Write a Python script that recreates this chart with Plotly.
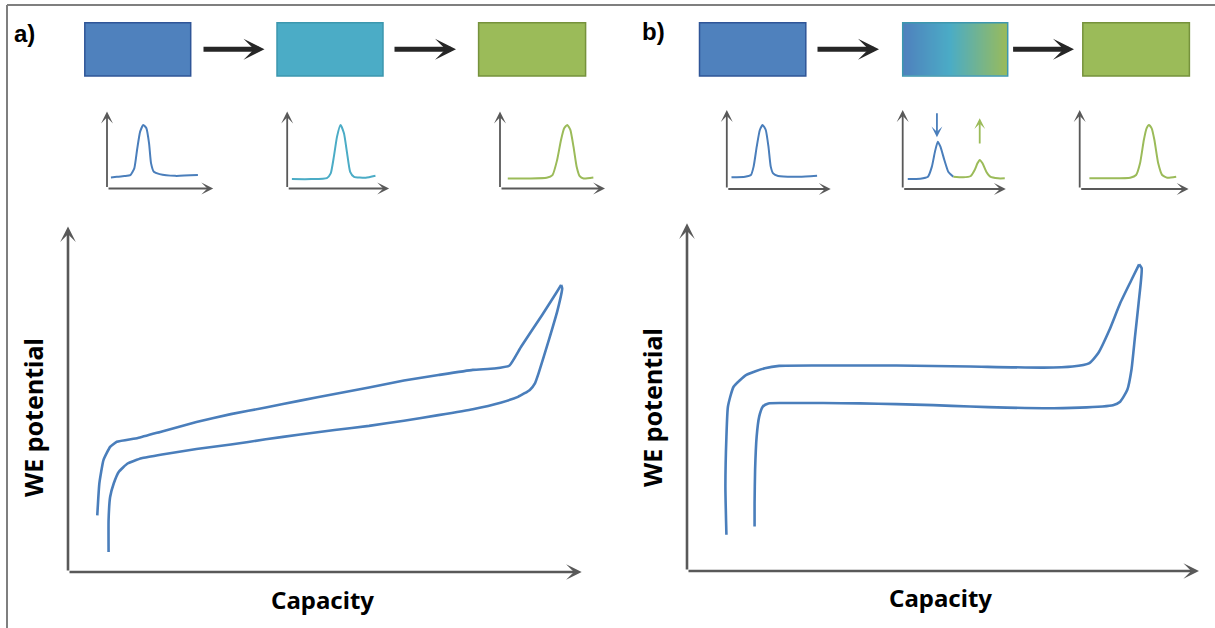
import plotly.graph_objects as go

# ---------------- data ----------------
# Panel a: sloping (solid-solution) voltage profile, capacity & potential in % of axis length
a_charge_cap = [5.7, 6.1, 6.9, 8.2, 9.5, 13.6, 18.3, 25.0, 31.7, 38.5, 45.2, 51.9, 58.6, 65.4,
                72.1, 78.8, 82.9, 85.9, 88.2, 92.3, 95.0, 96.0]
a_charge_pot = [16.4, 25.6, 32.4, 36.2, 37.7, 38.8, 40.7, 43.4, 45.7, 47.6, 49.6, 51.5, 53.4, 55.4,
                57.0, 58.5, 58.9, 59.7, 65.2, 74.4, 80.7, 83.1]
a_discharge_cap = [96.0, 96.2, 95.3, 93.6, 91.6, 90.9, 89.9, 87.6, 84.2, 78.8, 72.1, 65.4, 58.6, 51.9,
                   45.2, 38.5, 31.7, 25.0, 18.3, 14.3, 11.6, 9.9, 8.9, 8.2, 7.9, 7.9]
a_discharge_pot = [83.1, 82.1, 75.8, 67.1, 57.5, 54.6, 52.7, 50.7, 49.0, 47.1, 45.4, 43.8, 42.3, 41.1,
                   39.8, 38.4, 36.9, 35.6, 34.0, 32.9, 31.4, 29.0, 25.6, 21.7, 15.0, 5.8]

# Panel b: two-phase (plateau) voltage profile
b_charge_cap = [7.7, 7.5, 7.7, 8.0, 9.1, 11.6, 15.2, 18.0, 26.6, 40.9, 55.3, 69.6, 75.3, 78.5,
                80.3, 82.5, 84.6, 86.8, 88.3]
b_charge_pot = [10.4, 24.3, 38.6, 47.3, 53.0, 56.4, 58.3, 59.0, 59.1, 59.1, 58.8, 58.5, 58.8, 59.7,
                62.6, 69.3, 77.0, 83.7, 88.2]
b_discharge_cap = [88.3, 88.8, 88.2, 87.5, 86.8, 86.0, 84.6, 83.2, 76.7, 69.6, 62.4, 55.3, 48.1, 40.9,
                   33.8, 26.6, 19.5, 15.9, 14.8, 14.1, 13.6, 13.3, 13.2, 13.2]
b_discharge_pot = [88.2, 87.1, 77.0, 67.4, 57.8, 52.1, 48.7, 47.7, 47.0, 46.8, 47.0, 47.3, 47.7, 48.0,
                   48.2, 48.3, 48.3, 48.2, 47.3, 44.4, 38.6, 29.1, 19.5, 12.8]

# Small diffraction-peak sketches (x, y in % of the small axes)
a1_x = [3.7, 9.2, 16.5, 22.0, 25.7, 28.3, 31.2, 34.2, 37.1, 39.6, 41.5, 44.1, 49.5, 64.2, 85.6]
a1_y = [14.4, 15.1, 16.1, 17.4, 26.1, 50.0, 73.9, 82.6, 78.3, 58.7, 32.6, 21.7, 18.7, 16.4, 17.4]
a2_x = [4.6, 23.7, 38.9, 42.7, 45.8, 48.9, 52.3, 55.7, 58.8, 61.8, 65.6, 77.1, 86.6]
a2_y = [12.2, 12.2, 13.5, 19.6, 41.3, 67.4, 82.6, 71.7, 45.7, 21.7, 15.2, 13.9, 16.5]
a3_x = [7.4, 27.8, 44.4, 50.0, 54.4, 58.1, 61.1, 64.1, 67.0, 70.0, 73.0, 75.9, 79.6, 88.9]
a3_y = [13.0, 13.0, 13.9, 17.4, 37.0, 63.0, 78.3, 82.6, 76.1, 54.3, 28.3, 16.1, 13.0, 14.3]
b1_x = [4.5, 17.6, 23.2, 25.8, 28.8, 31.8, 34.5, 37.5, 40.1, 42.3, 44.6, 49.4, 70.0, 86.9]
b1_y = [14.8, 15.6, 17.7, 28.3, 53.6, 74.7, 81.0, 74.7, 53.6, 28.3, 19.8, 16.5, 15.6, 16.9]
b2_blue_x = [4.9, 17.0, 24.5, 28.3, 31.3, 34.0, 36.6, 40.4, 44.2, 49.1]
b2_blue_y = [12.7, 13.1, 15.6, 28.3, 47.3, 59.9, 53.6, 36.7, 21.9, 15.6]
b2_green_x = [49.1, 58.5, 66.0, 69.8, 72.5, 74.7, 77.4, 81.1, 84.9, 92.5, 99.0]
b2_green_y = [15.6, 14.8, 16.5, 24.1, 32.5, 36.7, 32.5, 21.9, 15.6, 13.5, 13.5]
b3_x = [8.9, 28.6, 46.4, 51.8, 55.4, 58.9, 61.4, 63.6, 66.1, 68.6, 72.1, 75.7, 80.4, 88.6]
b3_y = [13.5, 13.5, 14.3, 17.7, 32.5, 62.0, 76.8, 81.0, 76.8, 62.0, 32.5, 17.7, 14.3, 15.6]

# Two-phase box colour gradient
grad_pos = [0, 0.45, 1]
grad_colors = ["#4F81BD", "#4BACC6", "#9BBB59"]

BLUE = "#4A7EBB"
CYAN = "#4BACC6"
GREEN = "#9BBB59"
AXC = "#595959"
FONT = "Comic Sans MS, Noto Sans, sans-serif"

W, H = 1215, 628
def fx(p):
    return p / W
def fy(p):
    return 1 - p / H

fig = go.Figure()
layout = dict(width=W, height=H, margin=dict(l=0, r=0, t=0, b=0),
              paper_bgcolor="white", plot_bgcolor="rgba(0,0,0,0)", showlegend=False)

# axis boxes in pixels: (left, right, bottom, top)
axes_px = {
    1: (68, 581.7, 572, 226.5),      # main a
    2: (687, 1199, 571, 223.3),      # main b
    3: (107, 213.2, 188.5, 111.5),   # small a1
    4: (287.2, 389.1, 188.5, 111.5), # small a2
    5: (500, 605, 188.5, 111.5),     # small a3
    6: (726.8, 830.7, 189, 110),     # small b1
    7: (902.7, 1005.8, 189, 110),    # small b2
    8: (1079.7, 1188.6, 189, 110),   # small b3
}
for n, (l, r, b, t) in axes_px.items():
    sfx = "" if n == 1 else str(n)
    layout["xaxis" + sfx] = dict(domain=[fx(l), fx(r)], range=[0, 100], visible=False,
                                 anchor="y" + sfx, fixedrange=True)
    layout["yaxis" + sfx] = dict(domain=[fy(b), fy(t)], range=[0, 100], visible=False,
                                 anchor="x" + sfx, fixedrange=True)

# gradient box axis (9)
layout["xaxis9"] = dict(domain=[fx(902.7), fx(1007.7)], range=[0, 1], visible=False, anchor="y9")
layout["yaxis9"] = dict(domain=[fy(76), fy(22.7)], range=[0, 1], visible=False, anchor="x9")

def line(x, y, n, color, w, sm=0.5):
    sfx = "" if n == 1 else str(n)
    fig.add_trace(go.Scatter(x=x, y=y, mode="lines", xaxis="x" + sfx, yaxis="y" + sfx,
                             line=dict(color=color, width=w, shape="spline", smoothing=sm),
                             hoverinfo="skip"))

line(a_charge_cap, a_charge_pot, 1, BLUE, 2.6, 0.4)
line(a_discharge_cap, a_discharge_pot, 1, BLUE, 2.6, 0.4)
line(b_charge_cap, b_charge_pot, 2, BLUE, 2.6)
line(b_discharge_cap, b_discharge_pot, 2, BLUE, 2.6)
line(a1_x, a1_y, 3, BLUE, 2)
line(a2_x, a2_y, 4, CYAN, 2)
line(a3_x, a3_y, 5, GREEN, 2)
line(b1_x, b1_y, 6, BLUE, 2)
line(b2_blue_x, b2_blue_y, 7, BLUE, 2)
line(b2_green_x, b2_green_y, 7, GREEN, 2)
line(b3_x, b3_y, 8, GREEN, 2)

fig.add_trace(go.Heatmap(z=[grad_pos, grad_pos], x=grad_pos, y=[0, 1], xaxis="x9", yaxis="y9",
                         colorscale=[[p, c] for p, c in zip(grad_pos, grad_colors)],
                         zmin=0, zmax=1, zsmooth="best", showscale=False, hoverinfo="skip"))

annotations = []
def axis_arrows(n, w, size):
    sfx = "" if n == 1 else str(n)
    for (hx, hy) in [(100, 0), (0, 100)]:
        annotations.append(dict(x=hx, y=hy, ax=0, ay=0, xref="x" + sfx, yref="y" + sfx,
                                axref="x" + sfx, ayref="y" + sfx, text="", showarrow=True,
                                arrowhead=3, arrowwidth=w, arrowsize=size, arrowcolor=AXC,
                                standoff=0, startstandoff=0))
axis_arrows(1, 2.6, 1.0)
axis_arrows(2, 2.6, 1.0)
for n in range(3, 9):
    axis_arrows(n, 1.8, 1.1)

# peak change indicators in b2
annotations.append(dict(x=33.2, y=65.4, ax=33.2, ay=97.9, xref="x7", yref="y7", axref="x7", ayref="y7",
                        text="", showarrow=True, arrowhead=3, arrowwidth=1.8, arrowsize=1,
                        arrowcolor=BLUE, standoff=0))
annotations.append(dict(x=74.7, y=89.5, ax=74.7, ay=55.7, xref="x7", yref="y7", axref="x7", ayref="y7",
                        text="", showarrow=True, arrowhead=3, arrowwidth=1.8, arrowsize=1,
                        arrowcolor=GREEN, standoff=0))

# process arrows between boxes (pixel positions: tail x, head x), at y = 49.3 px
for (x0, x1) in [(202, 264.5), (393, 456), (816, 879), (1011.6, 1074)]:
    annotations.append(dict(x=fx(x1), y=fy(49.3), xref="paper", yref="paper",
                            ax=-(x1 - x0), ay=0, axref="pixel", ayref="pixel",
                            text="", showarrow=True, arrowhead=3, arrowwidth=5,
                            arrowsize=0.7, arrowcolor="#262626", standoff=0))

# text labels
def label(x, y, text, size, family, angle=0):
    return dict(x=fx(x), y=fy(y), xref="paper", yref="paper", text=text, showarrow=False,
                xanchor="center", yanchor="middle", textangle=angle,
                font=dict(family=family, size=size, color="black"))

annotations += [
    label(24, 33, "<b>a)</b>", 24, "Liberation Sans, Arial"),
    label(653, 31, "<b>b)</b>", 24, "Liberation Sans, Arial"),
    label(322, 599, "<b>Capacity</b>", 24, FONT),
    label(940, 597, "<b>Capacity</b>", 24, FONT),
    label(33, 418, "<b>WE potential</b>", 25, FONT, -90),
    label(652, 408, "<b>WE potential</b>", 25, FONT, -90),
]
layout["annotations"] = annotations

# boxes (phase states)
shapes = []
boxes = [
    (84.8, 190.7, "#4F81BD", "#2F5597"),
    (277, 383, "#4BACC6", "#3C97AE"),
    (478.6, 585.6, "#9BBB59", "#76923C"),
    (699.5, 805.8, "#4F81BD", "#2F5597"),
    (902.7, 1007.7, "rgba(0,0,0,0)", "#3C97AE"),
    (1082.8, 1189.4, "#9BBB59", "#76923C"),
]
for (l, r, fc, lc) in boxes:
    shapes.append(dict(type="rect", xref="paper", yref="paper", x0=fx(l), x1=fx(r),
                       y0=fy(76), y1=fy(22.7), fillcolor=fc, line=dict(color=lc, width=1.5),
                       layer="above"))
# outer frame (top and left edges)
shapes.append(dict(type="line", xref="paper", yref="paper", x0=fx(7), x1=fx(7), y0=0, y1=fy(5),
                   line=dict(color="#7F7F7F", width=2)))
shapes.append(dict(type="line", xref="paper", yref="paper", x0=fx(7), x1=1, y0=fy(5), y1=fy(5),
                   line=dict(color="#7F7F7F", width=2)))
layout["shapes"] = shapes

fig.update_layout(**layout)
fig.write_html("out.html")
